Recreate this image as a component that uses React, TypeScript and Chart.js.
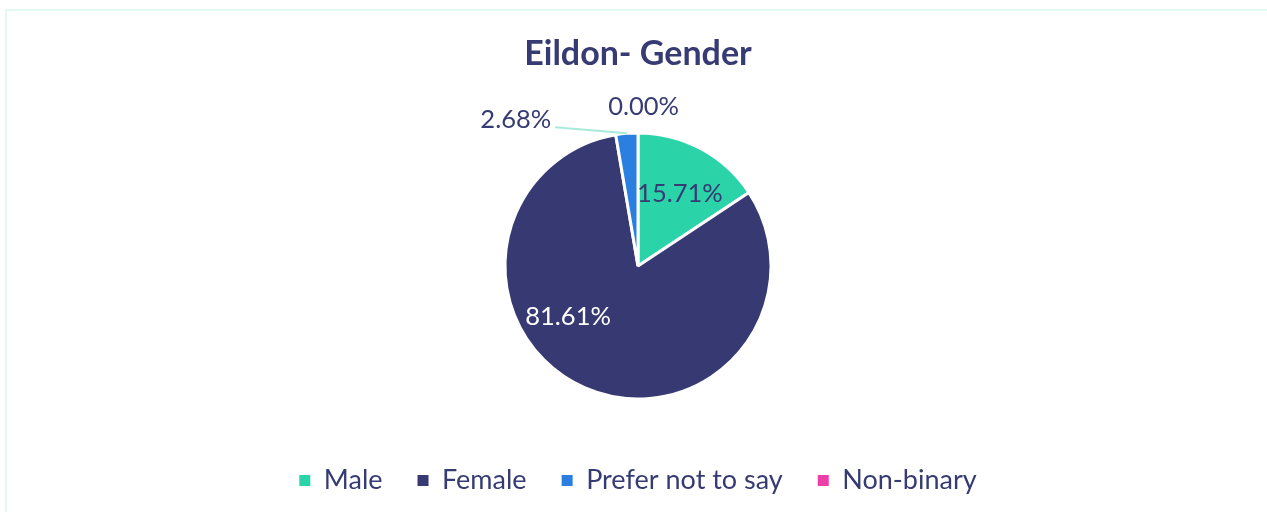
import React, { useEffect, useRef } from "react";
import { Chart, registerables } from "chart.js";

Chart.register(...registerables);

const categories = ["Male", "Female", "Prefer not to say", "Non-binary"];
const shares = [15.71, 81.61, 2.68, 0.0];
const valueLabels = ["15.71%", "81.61%", "2.68%", "0.00%"];
const title = "Eildon- Gender";

const sliceColors = ["#2BD3A9", "#373A72", "#2A7FE0", "#EE3FA8"];
const labelColors = ["#373B73", "#FFFFFF", "#373B73", "#373B73"];
// label placement: absolute angle (deg clockwise from top) and radius fraction
const labelAngles = [30, 234, 320, 2];
const labelRadii = [0.63, 0.65, 1.43, 1.2];
const leaderLines = [false, false, true, false];

const FONT = "Lato, 'Open Sans', sans-serif";
const NAVY = "#373B73";

const labelPlugin = {
  id: "sliceLabels",
  afterDatasetsDraw(chart: any) {
    const meta = chart.getDatasetMeta(0);
    const ctx = chart.ctx;
    ctx.save();
    ctx.font = `25.5px ${FONT}`;
    ctx.textAlign = "center";
    ctx.textBaseline = "middle";
    meta.data.forEach((arc: any, i: number) => {
      const { x, y, outerRadius, startAngle, endAngle } = arc.getProps(
        ["x", "y", "outerRadius", "startAngle", "endAngle"],
        true
      );
      const a = (labelAngles[i] * Math.PI) / 180;
      const r = outerRadius * labelRadii[i];
      const lx = x + r * Math.sin(a);
      const ly = y - r * Math.cos(a);
      if (leaderLines[i]) {
        const mid = (startAngle + endAngle) / 2;
        const ex = x + outerRadius * Math.cos(mid);
        const ey = y + outerRadius * Math.sin(mid);
        const w = ctx.measureText(valueLabels[i]).width;
        ctx.strokeStyle = "#A9E9DA";
        ctx.lineWidth = 2;
        ctx.beginPath();
        ctx.moveTo(lx + w / 2 + 4, ly + 7);
        ctx.lineTo(ex, ey);
        ctx.stroke();
      }
      ctx.fillStyle = labelColors[i];
      ctx.fillText(valueLabels[i], lx, ly);
    });
    ctx.restore();
  },
};

export default function App() {
  const canvasRef = useRef<HTMLCanvasElement | null>(null);

  useEffect(() => {
    const canvas = canvasRef.current;
    if (!canvas) return;
    const defaultGen = (Chart as any).overrides.pie.plugins.legend.labels
      .generateLabels;
    const chart = new Chart(canvas, {
      type: "pie",
      data: {
        labels: categories,
        datasets: [
          {
            data: shares,
            backgroundColor: sliceColors,
            borderColor: "#FFFFFF",
            borderWidth: 3,
            radius: 133,
          } as any,
        ],
      },
      options: {
        responsive: false,
        animation: false,
        layout: { padding: { left: 9, right: 0, top: 0, bottom: 8 } },
        plugins: {
          title: {
            display: true,
            text: title,
            color: NAVY,
            font: { family: FONT, size: 34, weight: "bold" },
            padding: { top: 34, bottom: 25 },
          },
          legend: {
            position: "bottom",
            labels: {
              color: NAVY,
              font: { family: FONT, size: 27 },
              boxWidth: 11,
              boxHeight: 11,
              padding: 35,
              generateLabels: (c: any) =>
                defaultGen(c).map((l: any) => ({
                  ...l,
                  lineWidth: 0,
                  strokeStyle: "rgba(0,0,0,0)",
                })),
            },
          },
          tooltip: { enabled: false },
        },
      },
      plugins: [labelPlugin],
    });
    return () => chart.destroy();
  }, []);

  return (
    <div
      style={{
        position: "fixed",
        left: 0,
        top: 0,
        width: 1267,
        height: 512,
        background: "#FFFFFF",
        overflow: "hidden",
      }}
    >
      <div
        style={{
          position: "absolute",
          left: 5,
          top: 9,
          width: 1300,
          height: 600,
          border: "2px solid #E2F8F1",
          boxSizing: "border-box",
        }}
      />
      <canvas
        ref={canvasRef}
        width={1267}
        height={512}
        style={{ position: "absolute", left: 0, top: 0 }}
      />
    </div>
  );
}
